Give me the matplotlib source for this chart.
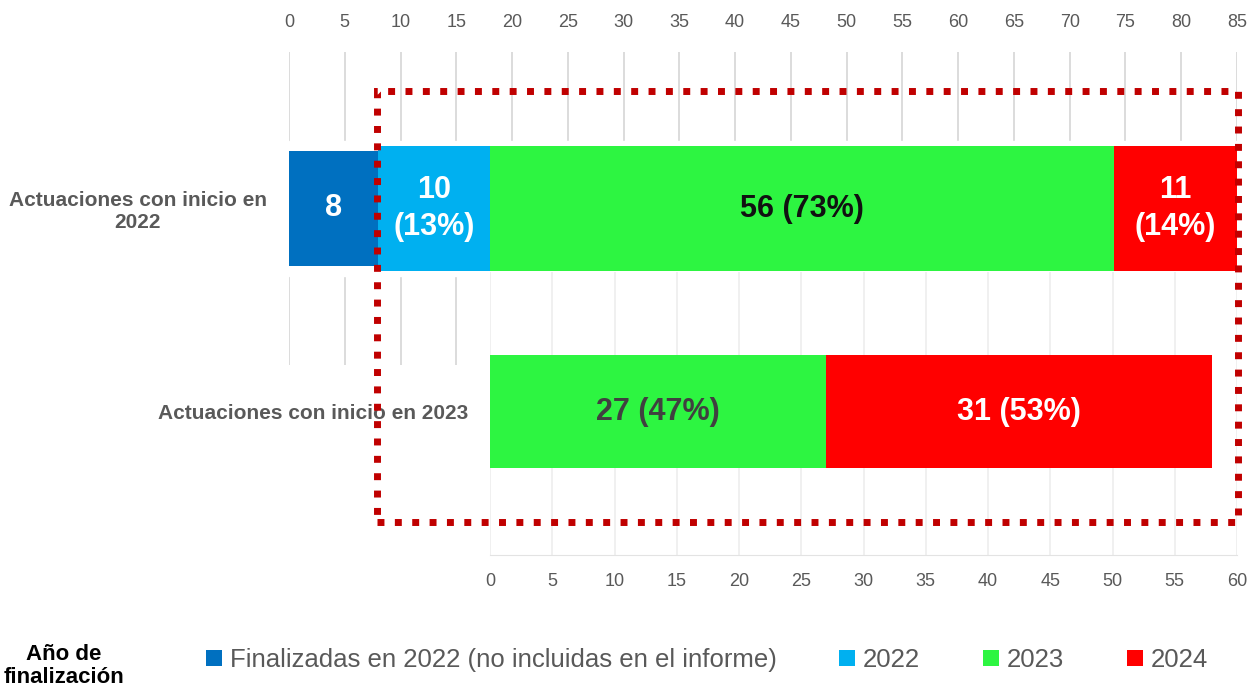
import matplotlib.pyplot as plt
from matplotlib import font_manager
from matplotlib.patches import Rectangle

# datos
series = ["Finalizadas en 2022 (no incluidas en el informe)", "2022", "2023", "2024"]
colores = ["#0070C0", "#00B0F0", "#2DF541", "#FF0000"]
col_texto = ["white", "white", "#111111", "white"]

cat_2022 = "Actuaciones con inicio en\n2022"
vals_2022 = [8, 10, 56, 11]
pct_2022 = [None, 13, 73, 14]

cat_2023 = "Actuaciones con inicio en 2023"
series_2023 = ["2023", "2024"]
vals_2023 = [27, 31]
pct_2023 = [47, 53]
col_texto_2023 = ["#404040", "white"]

ticks_top = list(range(0, 86, 5))
ticks_bot = list(range(0, 61, 5))
leyenda_titulo = "Año de\nfinalización"

nombres = {f.name for f in font_manager.fontManager.ttflist}
fuente = "Liberation Sans Narrow" if "Liberation Sans Narrow" in nombres else "Liberation Sans"
plt.rcParams['font.family'] = [fuente, 'DejaVu Sans']

W, H = 1248, 694
fig = plt.figure(figsize=(W / 100, H / 100), dpi=100)
gris = "#595959"


def etiqueta(v, p):
    if p is None:
        return str(v)
    sep = "\n" if v < 15 else " "
    return f"{v}{sep}({p}%)"


# eje superior (inicio 2022)
ax1 = fig.add_axes([289 / W, 1 - 365 / H, 948 / W, 313 / H])
ax1.set_xlim(0, 85)
ax1.set_ylim(-0.5, 0.5)
ax1.set_axisbelow(True)
ax1.grid(axis='x', color='#D9D9D9', lw=1.3)
ax1.axhspan(-0.215, 0.215, color='white', zorder=1)
izq = 0
handles = []
for i, v in enumerate(vals_2022):
    h = 0.37 if i == 0 else 0.40
    b = ax1.barh(0, v, left=izq, height=h, color=colores[i], zorder=2, label=series[i])
    handles.append(b)
    ax1.text(izq + v / 2, 0, etiqueta(v, pct_2022[i]), ha='center', va='center',
             color=col_texto[i], fontsize=22, fontweight='bold', linespacing=1.3, zorder=3)
    izq += v
ax1.xaxis.tick_top()
ax1.set_xticks(ticks_top)
ax1.tick_params(axis='x', length=0, pad=15, labelsize=13, labelcolor=gris)
ax1.set_yticks([0])
ax1.set_yticklabels([cat_2022], multialignment='center')
ax1.tick_params(axis='y', length=0, pad=16, labelsize=15, labelcolor=gris)
for lab in ax1.get_yticklabels():
    lab.set_fontweight('bold')
for s in ax1.spines.values():
    s.set_visible(False)

# eje inferior (inicio 2023)
ax2 = fig.add_axes([490 / W, 1 - 555 / H, 747 / W, 283 / H])
ax2.set_zorder(1)
ax2.set_facecolor('white')
ax2.set_xlim(0, 60)
ax2.set_ylim(-0.507, 0.493)
ax2.set_axisbelow(True)
ax2.grid(axis='x', color='#EDEDED', lw=1.2)
izq = 0
for i, v in enumerate(vals_2023):
    c = colores[series.index(series_2023[i])]
    ax2.barh(0, v, left=izq, height=0.40, color=c, zorder=2)
    ax2.text(izq + v / 2, 0, etiqueta(v, pct_2023[i]), ha='center', va='center',
             color=col_texto_2023[i], fontsize=22, fontweight='bold', zorder=3)
    izq += v
ax2.set_xticks(ticks_bot)
ax2.tick_params(axis='x', length=0, pad=13, labelsize=13, labelcolor=gris)
ax2.set_yticks([0])
ax2.set_yticklabels([cat_2023])
ax2.tick_params(axis='y', length=0, pad=16, labelsize=15, labelcolor=gris)
for lab in ax2.get_yticklabels():
    lab.set_fontweight('bold')
for k, s in ax2.spines.items():
    if k == 'bottom':
        s.set_color('#E3E3E3')
    else:
        s.set_visible(False)

# recuadro punteado
rect = Rectangle((377 / W, 1 - 522 / H), (1238 - 377) / W, (522 - 91) / H,
                 transform=fig.transFigure, fill=False, ec='#C00000', lw=5,
                 ls=(0, (1, 1.5)), zorder=10)
fig.add_artist(rect)

# leyenda
fig.legend(handles=handles, labels=series, loc='center left',
           bbox_to_anchor=(206 / W, 1 - 660 / H), ncol=4, frameon=False,
           fontsize=18.5, labelcolor=gris, handlelength=0.62, handleheight=0.62,
           handletextpad=0.3, columnspacing=2.45, borderpad=0, borderaxespad=0)
fig.text(64 / W, 1 - 666 / H, leyenda_titulo, ha='center', va='center',
         fontsize=16, fontweight='bold', color='black', linespacing=1.1)

fig.savefig("out.png", dpi=100)
